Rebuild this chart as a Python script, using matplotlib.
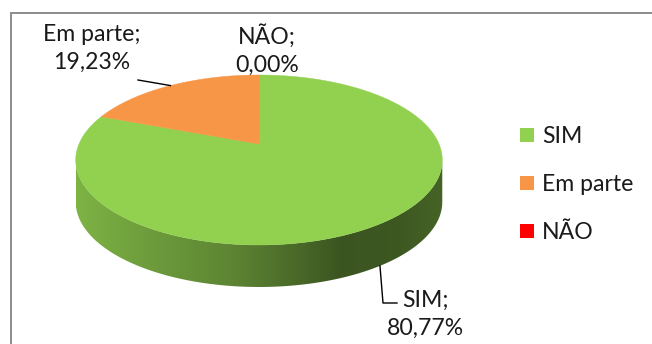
import numpy as np
import matplotlib.pyplot as plt
from matplotlib.patches import Polygon, Rectangle
from matplotlib.colors import to_rgb

categories = ['SIM', 'Em parte', 'NÃO']
percentages = [80.77, 19.23, 0.00]
colors = ['#92d050', '#f79646', '#ff0000']

plt.rcParams['font.family'] = ['Lato', 'DejaVu Sans']
FS = 16.6
TXT = '#1a1a1a'

fig = plt.figure(figsize=(6.52, 3.44), dpi=100)
ax = fig.add_axes([0, 0, 1, 1])
ax.set_xlim(0, 652)
ax.set_ylim(344, 0)
ax.axis('off')

# pie placement in pixels, with a light perspective tilt and extrusion depth
cx, cy, rx, ry, tilt, depth = 259, 144, 180, 82, 0.188, 42


def project(theta_deg, drop=0.0):
    t = np.radians(theta_deg)
    u, v = np.cos(t), np.sin(t)
    s = 1.0 / (1.0 + tilt * v)
    return cx + rx * u * s, cy - ry * v * s + drop


# slice angles: clockwise from 12 o'clock
angles = []
start = 90.0
for p in percentages:
    end = start - 360.0 * p / 100.0
    angles.append((start, end))
    start = end

# visible front side of the cylinder lies between the silhouette tangents
a = np.degrees(np.arcsin(tilt))
front_lo, front_hi = -180 + a, -a
x_left = project(180 + a)[0]
x_right = project(-a)[0]

# shading across the side, from lit left to dark right
shade_x = [0.0, 0.2, 0.42, 0.61, 0.72, 0.88, 1.0]
shade_f = [0.86, 0.75, 0.64, 0.50, 0.41, 0.42, 0.48]

for (st, en), col in zip(angles, colors):
    lo, hi = max(en, front_lo), min(st, front_hi)
    if hi <= lo:
        continue
    ts = np.linspace(lo, hi, 200)
    top = np.column_stack(project(ts))
    bot = np.column_stack(project(ts[::-1], depth))
    side = Polygon(np.vstack([top, bot]), closed=True, fc='none', ec='none')
    ax.add_patch(side)
    xs = np.linspace(0, 1, 400)
    f = np.interp(xs, shade_x, shade_f)
    grad = np.array(to_rgb(col))[None, None, :] * f[None, :, None]
    im = ax.imshow(grad, extent=(x_left, x_right, cy + 2 * ry, cy - ry),
                   aspect='auto', interpolation='bilinear', zorder=1)
    im.set_clip_path(side)

# top face of each slice
for (st, en), col in zip(angles, colors):
    if st == en:
        continue
    ts = np.linspace(st, en, 300)
    rim = np.column_stack(project(ts))
    pts = np.vstack([[cx, cy], rim])
    ax.add_patch(Polygon(pts, closed=True, fc=col, ec=col, lw=0.3, zorder=2))

# data labels
label_pos = {'SIM': (425, 290), 'Em parte': (92, 24), 'NÃO': (267, 24)}
for cat, p in zip(categories, percentages):
    txt = f"{cat};\n{p:.2f}%".replace('.', ',')
    lx, ly = label_pos[cat]
    ax.text(lx, ly, txt, ha='center', va='top', fontsize=FS, color=TXT,
            linespacing=1.4, zorder=5)

# leader lines to the slice rims
mid = [(st + en) / 2 for st, en in angles]
ex, ey = project(mid[1])
ax.plot([138, ex], [80, ey], color='black', lw=1.0, zorder=4)
ex, ey = project(mid[0], depth)
ax.plot([ex, 383, 397], [ey, 303, 303], color='black', lw=1.0, zorder=4)

# legend
for i, (cat, col) in enumerate(zip(categories, colors)):
    y0 = 128 + 48 * i
    ax.add_patch(Rectangle((520, y0), 14, 14, fc=col, ec='none', zorder=3))
    ax.text(542, y0 + 15, cat, ha='left', va='baseline', fontsize=FS,
            color=TXT, zorder=5)

# chart area border
ax.plot([11, 11, 652], [344, 13, 13], color='#8c8c8c', lw=1.4,
        solid_joinstyle='miter', zorder=6)

fig.savefig('out.png', dpi=100)
